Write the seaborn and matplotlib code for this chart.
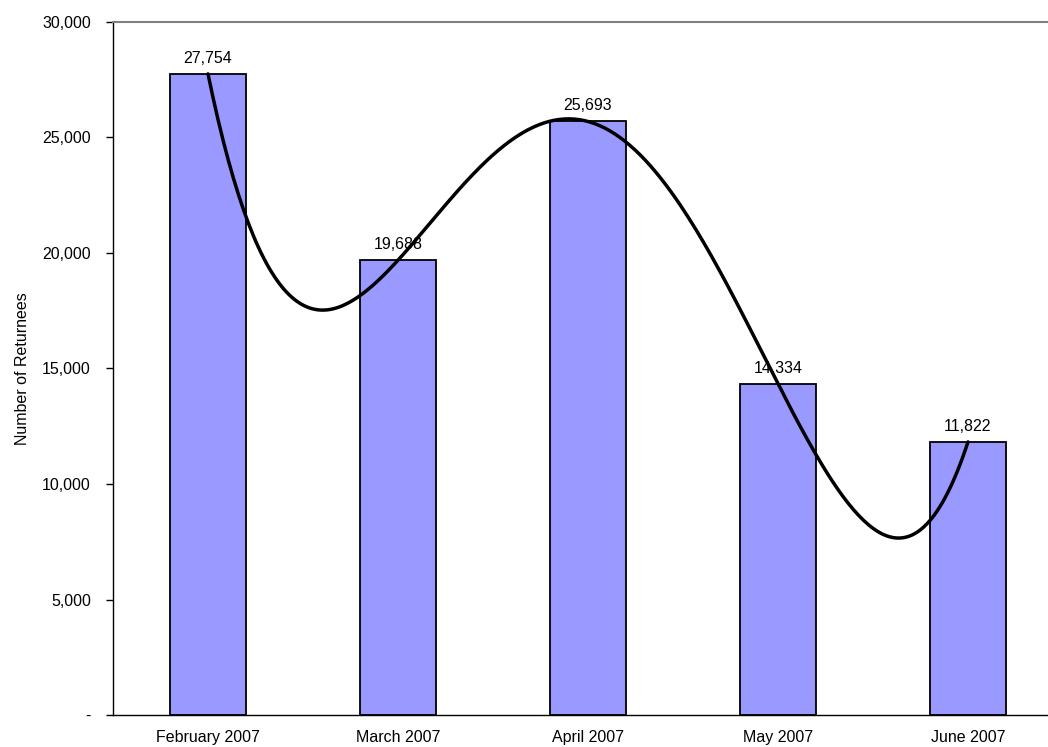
import numpy as np
import matplotlib
matplotlib.use("Agg")
import matplotlib.pyplot as plt
import seaborn as sns
from matplotlib.ticker import FuncFormatter, FixedLocator

months = ["February 2007", "March 2007", "April 2007", "May 2007", "June 2007"]
returnees = [27754, 19688, 25693, 14334, 11822]
y_ticks = [0, 5000, 10000, 15000, 20000, 25000, 30000]

sns.set_style("white")
plt.rcParams['font.family'] = ['Liberation Sans', 'DejaVu Sans']
plt.rcParams['text.color'] = 'black'
plt.rcParams['axes.labelcolor'] = 'black'
plt.rcParams['xtick.color'] = 'black'
plt.rcParams['ytick.color'] = 'black'

fs = 11.5

fig = plt.figure(figsize=(10.48, 7.47), dpi=100)
ax = fig.add_axes([113 / 1048, 1 - 715 / 747, 950 / 1048, 693 / 747])

sns.barplot(x=months, y=returnees, color="#9999FF", saturation=1, width=0.4,
            edgecolor="black", linewidth=1.3, ax=ax, zorder=2)

# polynomial trendline (order 4) like the Excel one
xs = np.arange(len(returnees))
coef = np.polyfit(xs, returnees, 4)
xx = np.linspace(0, len(returnees) - 1, 300)
ax.plot(xx, np.polyval(coef, xx), color="black", linewidth=2.5, zorder=3)

ax.bar_label(ax.containers[0], labels=[f"{v:,}" for v in returnees],
             padding=6, fontsize=fs, color="black", zorder=4)

ax.set_xlim(-0.5, len(months) - 0.5)
ax.set_ylim(0, 30000)
ax.set_yticks(y_ticks)
ax.yaxis.set_major_formatter(FuncFormatter(lambda v, p: "-" if v == 0 else f"{v:,.0f}"))
ax.xaxis.set_minor_locator(FixedLocator(np.arange(-0.5, len(months), 1.0)))
ax.tick_params(axis="x", which="major", length=0, pad=11, labelsize=fs)
ax.tick_params(axis="x", which="minor", length=5, width=1, color="black", direction="out")
ax.tick_params(axis="y", which="major", length=5, width=1, color="black",
               direction="out", labelsize=fs, pad=11)
ax.tick_params(axis="both", bottom=True, left=True)

ax.set_ylabel("Number of Returnees", fontsize=fs, labelpad=9)
ax.set_xlabel("")

for side in ["left", "bottom"]:
    ax.spines[side].set_color("black")
    ax.spines[side].set_linewidth(1.0)
ax.spines["top"].set_color("#808080")
ax.spines["top"].set_linewidth(1.5)
ax.spines["right"].set_visible(False)

fig.savefig("out.png", dpi=100)
